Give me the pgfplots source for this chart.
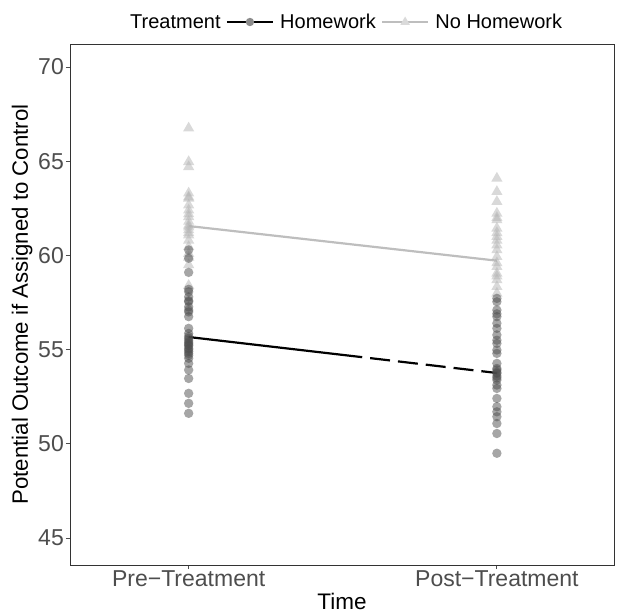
\documentclass[border=0pt]{standalone}
\usepackage{fontspec}
\setmainfont{Liberation Sans}
\usepackage{pgfplots}
\pgfplotsset{compat=1.18}
\definecolor{hwpt}{HTML}{4D4D4D}
\definecolor{nhpt}{HTML}{B3B3B3}
\definecolor{nhline}{HTML}{BEBEBE}
\definecolor{tickgray}{HTML}{4D4D4D}
\definecolor{legpt}{HTML}{8C8C8C}
\definecolor{legtri}{HTML}{DADADA}
\begin{document}
\begin{tikzpicture}
\useasboundingbox (-70pt,-48pt) rectangle (547pt,565pt);
\begin{axis}[
  at={(0,0)}, anchor=south west,
  scale only axis, width=544pt, height=521pt,
  xmin=0.615, xmax=2.38, ymin=43.57, ymax=71.22,
  xtick={1,2}, xticklabels={Pre−Treatment, Post−Treatment},
  ytick={45,50,55,60,65,70},
  xtick pos=bottom, ytick pos=left,
  tick align=outside, major tick length=4pt,
  tick style={color=tickgray, line width=0.8pt},
  axis line style={black!80, line width=0.8pt},
  ticklabel style={font=\fontsize{23}{27}\selectfont, text=tickgray},
  yticklabel style={inner sep=2pt},
  xticklabel style={inner sep=1pt},
  /pgf/number format/assume math mode=true,
  xlabel={Time}, ylabel={Potential Outcome if Assigned to Control},
  every axis x label/.style={at={(axis description cs:0.5,-0.0845)}, anchor=base, inner sep=0pt, font=\fontsize{22.5}{26}\selectfont},
  every axis y label/.style={at={(axis description cs:-0.0882,0.5)}, rotate=90, anchor=center, font=\fontsize{22.2}{26}\selectfont},
  legend columns=-1,
  legend style={at={(axis description cs:0.504,1.0422)}, anchor=center, draw=none, fill=none,
    font=\fontsize{20}{23}\selectfont,
    /tikz/every odd column/.append style={column sep=4pt},
    /tikz/every even column/.append style={column sep=3pt}},
  legend image code/.code={\draw[mark repeat=2,mark phase=2,#1] plot coordinates {(0pt,0pt)(23pt,0pt)(46pt,0pt)};},
]
\addlegendimage{empty legend}\addlegendentry{Treatment}
\addlegendimage{black, line width=2.6pt, mark=*, mark options={fill=legpt, draw opacity=0, mark size=4.2pt}}\addlegendentry{Homework}
\addlegendimage{nhline, line width=2.6pt, mark=triangle*, mark options={fill=legtri, draw opacity=0, mark size=5.5pt}}\addlegendentry{No Homework}

% No Homework points (triangles)
\addplot[forget plot, only marks, mark=triangle*, mark size=6.5pt, mark options={fill=nhpt, draw opacity=0, fill opacity=0.5}] coordinates {
(1,66.75)(1,64.97)(1,64.7)(1,63.3)(1,63.03)(1,62.67)(1,62.4)(1,62.05)(1,61.6)(1,61.35)(1,61.08)(1,60.8)(1,60.46)(1,61.8)(1,61.2)(1,61.5)(1,60.1)(1,59.9)(1,59.5)(1,58.4)(1,62.2)(1,63.1)
(2,64.09)(2,63.38)(2,62.85)(2,62.23)(2,61.88)(2,61.44)(2,61.0)(2,60.55)(2,60.29)(2,59.93)(2,59.4)(2,59.05)(2,58.7)(2,58.34)(2,57.99)(2,62.0)(2,61.2)(2,60.8)(2,59.6)(2,58.9)
};
% Homework points (circles)
\addplot[forget plot, only marks, mark=*, mark size=4.7pt, mark options={fill=hwpt, draw opacity=0, fill opacity=0.5}] coordinates {
(1,60.29)(1,59.85)(1,59.1)(1,58.07)(1,57.8)(1,57.54)(1,57.27)(1,57.0)(1,56.75)(1,58.2)(1,57.6)(1,57.1)(1,56.13)(1,55.86)(1,55.6)(1,55.33)(1,55.07)(1,54.8)(1,54.54)(1,54.27)(1,55.5)(1,55.2)(1,55.0)(1,55.4)(1,54.9)(1,55.7)(1,55.25)(1,54.7)(1,53.92)(1,53.47)(1,52.68)(1,52.15)(1,51.62)
(2,57.72)(2,57.54)(2,57.1)(2,56.75)(2,56.4)(2,56.13)(2,55.78)(2,55.33)(2,54.98)(2,54.8)(2,54.27)(2,53.92)(2,53.74)(2,53.39)(2,53.12)(2,52.94)(2,52.41)(2,51.97)(2,51.7)(2,51.44)(2,51.08)(2,50.55)(2,49.5)(2,54.0)(2,53.6)(2,53.5)(2,53.8)(2,56.9)(2,55.5)
};
% mean lines
\addplot[forget plot, nhline, line width=2.2pt] coordinates {(1,61.56)(2,59.72)};
\addplot[forget plot, black, line width=2.2pt] coordinates {(1,55.67)(1.563,54.60)};
\addplot[forget plot, black, line width=2.2pt, dash pattern=on 20pt off 8pt, dash phase=20pt] coordinates {(1.563,54.60)(2,53.76)};
\end{axis}
\end{tikzpicture}
\end{document}
